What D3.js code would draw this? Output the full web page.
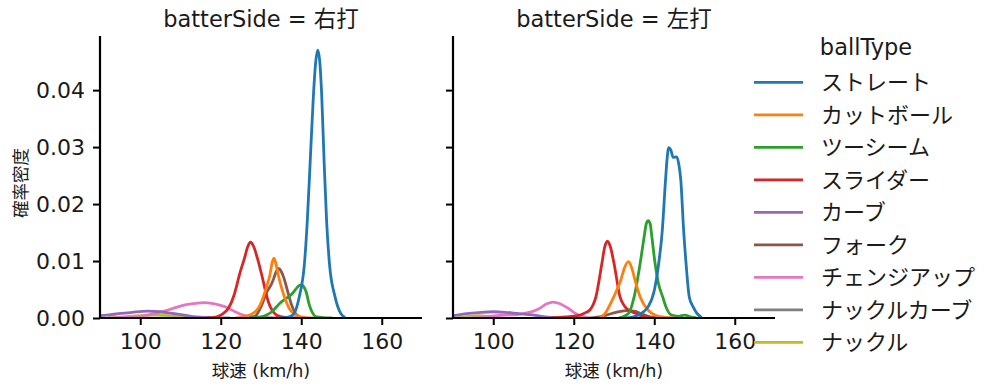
<!DOCTYPE html>
<html>
<head>
<meta charset="utf-8">
<script src="https://cdn.jsdelivr.net/npm/d3@7"></script>
<style>
  body { margin: 0; background: #fff; }
  svg text { font-family: "DejaVu Sans", "Noto Sans CJK JP", sans-serif; fill: #1a1a1a; }
</style>
</head>
<body>
<div id="chart"></div>
<script>
// 球種ごとの球速密度 (画像から読み取った値: [km/h, 密度])
const ballTypes = ['ストレート', 'カットボール', 'ツーシーム', 'スライダー', 'カーブ', 'フォーク', 'チェンジアップ', 'ナックルカーブ', 'ナックル'];
const colors = ['#1f77b4', '#ff7f0e', '#2ca02c', '#d62728', '#9467bd', '#8c564b', '#e377c2', '#7f7f7f', '#bcbd22'];
const panels = ['右打', '左打'];
const xTicks = [100, 120, 140, 160];
const yTicks = [0.00, 0.01, 0.02, 0.03, 0.04];

// 右打
const rightStraight = [[134.7,0],[137,0.0002],[138.2,0.0008],[139.5,0.0037],[140.8,0.0096],[141.5,0.017],[142.2,0.0271],[143,0.0388],[143.6,0.045],[144.1,0.047],[144.6,0.045],[145.1,0.0388],[145.7,0.0271],[146.3,0.017],[147,0.0096],[148.4,0.0037],[149.8,0.0008],[150.9,0.0001]];
const rightCutter = [[123.7,0],[126.4,0.0003],[128,0.0008],[129.3,0.0017],[130.2,0.003],[131,0.0046],[131.6,0.006],[132.2,0.0075],[132.7,0.0095],[133.2,0.0105],[133.7,0.0095],[134.3,0.0075],[135.4,0.0046],[136.2,0.003],[137,0.0017],[138.3,0.0007],[139.7,0.0002],[143.2,0]];
const rightTwoSeam = [[127.3,0],[130.6,0.0003],[132.7,0.0011],[134.7,0.0026],[136,0.0033],[136.8,0.0037],[137.8,0.0043],[138.8,0.0052],[139.5,0.0057],[140,0.0058],[140.6,0.0055],[141.2,0.0046],[142,0.0023],[142.8,0.0009],[143.8,0.0002],[147.7,0]];
const rightSlider = [[116.5,0],[119,0.0002],[120.2,0.0006],[121.9,0.0017],[123.3,0.004],[124,0.0058],[124.6,0.0075],[125.9,0.0105],[126.7,0.0125],[127.4,0.0133],[128.2,0.0125],[129.1,0.0105],[130.2,0.0075],[131.8,0.0029],[133.9,0.0005],[136,0.0001],[139,0]];
const rightCurve = [[84,0],[88,0.0002],[90,0.0004],[94,0.0007],[98,0.001],[101.8,0.0012],[105,0.0011],[108,0.0008],[111,0.0005],[114,0.0002],[117,0.0001],[122.3,0]];
const rightFork = [[126.4,0],[128.5,0.0003],[130.2,0.0023],[131.2,0.0042],[131.8,0.005],[132.5,0.0058],[133.2,0.007],[133.8,0.0082],[134.4,0.0087],[135,0.0082],[135.7,0.007],[136.5,0.005],[137.6,0.0023],[138.9,0.0005],[140.5,0]];
const rightChangeup = [[92,0],[96,0.0001],[100,0.0003],[103.7,0.0008],[106,0.0012],[108.2,0.0017],[111.1,0.0023],[113,0.0025],[116.1,0.0027],[119,0.0024],[121,0.002],[123,0.0013],[125.6,0.0005],[128,0.0002],[131,0.0001],[135.5,0]];
const rightKnuckleCurve = [];
const rightKnuckle = [[92,0],[96,0.0002],[100,0.0004],[104,0.0005],[107,0.0004],[110,0.0002],[113,0]];

// 左打
const leftStraight = [[133,0],[135.6,0.0004],[137.5,0.0012],[138.5,0.002],[139.9,0.0045],[141,0.009],[142,0.0154],[142.8,0.0242],[143.2,0.028],[143.6,0.0299],[144.1,0.0295],[144.7,0.0282],[145.6,0.0283],[146.1,0.027],[146.6,0.0242],[147.3,0.0154],[147.9,0.0096],[148.7,0.0037],[149.7,0.0019],[150.6,0.0008],[151.8,0.0001]];
const leftCutter = [[126.5,0],[127.8,0.0008],[129.2,0.0026],[130.7,0.0049],[131.7,0.0067],[132.6,0.0088],[133.6,0.0099],[134.4,0.0088],[135.2,0.0067],[136.5,0.0037],[138.3,0.0015],[140.6,0.0004],[143,0.0001],[145.2,0]];
const leftTwoSeam = [[131.1,0],[133.6,0.0008],[135,0.0037],[136.5,0.0096],[137.5,0.0143],[138,0.0165],[138.5,0.0171],[139,0.0165],[139.4,0.0143],[140.2,0.0096],[141,0.0062],[142.1,0.0037],[143,0.0018],[144.3,0.0005],[146,0.0003],[147.6,0.0005],[149,0.0002],[150.5,0]];
const leftSlider = [[114.5,0],[118,0.0002],[121,0.0004],[122.5,0.0008],[124,0.0014],[125.5,0.0037],[127,0.0096],[127.7,0.0125],[128.4,0.0135],[129.1,0.0125],[130,0.0096],[131.5,0.0037],[132.7,0.002],[134,0.0012],[135.5,0.0008],[137,0.0003],[139,0]];
const leftCurve = [[84,0],[88,0.0002],[90,0.0004],[94,0.0008],[97,0.001],[100,0.0011],[103,0.001],[106,0.0008],[109,0.0006],[112,0.0003],[115,0.0001],[118,0]];
const leftFork = [[124,0],[127,0.0003],[130,0.0009],[133,0.0013],[135,0.0012],[137,0.0007],[139,0.0002],[141,0]];
const leftChangeup = [[95,0],[99,0.0003],[103,0.0005],[106,0.0006],[108.3,0.0009],[110,0.0012],[111.6,0.0017],[113.3,0.0025],[114.9,0.0028],[116.6,0.0025],[118.6,0.0017],[120.7,0.0007],[122.5,0.0002],[124,0]];
const leftKnuckleCurve = [];
const leftKnuckle = [[91,0],[94,0.0003],[96.5,0.0004],[99,0.0002],[101,0]];

const panelSeries = [
  [rightStraight, rightCutter, rightTwoSeam, rightSlider, rightCurve, rightFork, rightChangeup, rightKnuckleCurve, rightKnuckle],
  [leftStraight, leftCutter, leftTwoSeam, leftSlider, leftCurve, leftFork, leftChangeup, leftKnuckleCurve, leftKnuckle]
];

const width = 999, height = 391;
const svg = d3.select('#chart').append('svg')
  .attr('width', width)
  .attr('height', height);

const panelLeft = [100, 453];
const panelWidth = 322;
const plotTop = 36, plotBottom = 318;

const y = d3.scaleLinear().domain([0, 0.0495]).range([plotBottom, plotTop]);

panels.forEach((side, p) => {
  const x = d3.scaleLinear().domain([90, 170]).range([panelLeft[p], panelLeft[p] + panelWidth]);
  const g = svg.append('g');

  g.append('clipPath').attr('id', 'clip' + p)
    .append('rect')
    .attr('x', panelLeft[p]).attr('y', plotTop - 5)
    .attr('width', panelWidth).attr('height', plotBottom - plotTop + 5);

  const line = d3.line()
    .x(d => x(d[0]))
    .y(d => y(d[1]))
    .curve(d3.curveMonotoneX);

  // 逆順に描く (ストレートが最前面)
  const order = d3.range(ballTypes.length).reverse();
  g.append('g').attr('clip-path', `url(#clip${p})`)
    .selectAll('path')
    .data(order.filter(i => panelSeries[p][i].length))
    .join('path')
    .attr('d', i => line(panelSeries[p][i]))
    .attr('fill', 'none')
    .attr('stroke', i => colors[i])
    .attr('stroke-width', 2.8)
    .attr('stroke-linejoin', 'round');

  // x軸
  const xAxis = g.append('g')
    .attr('transform', `translate(0,${plotBottom})`)
    .call(d3.axisBottom(x).tickValues(xTicks).tickSize(7).tickPadding(6).tickFormat(d3.format('d')));
  xAxis.select('.domain').attr('stroke', '#000').attr('stroke-width', 2.2)
    .attr('d', `M${panelLeft[p]},0H${panelLeft[p] + panelWidth}`);
  xAxis.selectAll('.tick line').attr('stroke', '#000').attr('stroke-width', 2);
  xAxis.selectAll('.tick text').attr('font-size', 22).attr('dy', '0.82em');

  // y軸
  const yAxis = g.append('g')
    .attr('transform', `translate(${panelLeft[p]},0)`)
    .call(d3.axisLeft(y).tickValues(yTicks).tickSize(7).tickPadding(8)
      .tickFormat(p === 0 ? d3.format('.2f') : () => ''));
  yAxis.select('.domain').attr('stroke', '#000').attr('stroke-width', 2.2)
    .attr('d', `M0,${plotTop}V${plotBottom}`);
  yAxis.selectAll('.tick line').attr('stroke', '#000').attr('stroke-width', 2);
  yAxis.selectAll('.tick text').attr('font-size', 22);

  svg.append('text')
    .attr('x', panelLeft[p] + panelWidth / 2)
    .attr('y', 27)
    .attr('text-anchor', 'middle')
    .attr('font-size', 22.5)
    .text(`batterSide = ${side}`);

  svg.append('text')
    .attr('x', panelLeft[p] + panelWidth / 2)
    .attr('y', 377)
    .attr('text-anchor', 'middle')
    .attr('font-size', 17.5)
    .text('球速 (km/h)');
});

svg.append('text')
  .attr('transform', 'translate(27,183) rotate(-90)')
  .attr('text-anchor', 'middle')
  .attr('font-size', 17.5)
  .text('確率密度');

// 凡例
const legend = svg.append('g');
legend.append('text')
  .attr('x', 866).attr('y', 55)
  .attr('text-anchor', 'middle')
  .attr('font-size', 22.5)
  .text('ballType');

const rows = legend.selectAll('g.row')
  .data(ballTypes)
  .join('g')
  .attr('class', 'row')
  .attr('transform', (d, i) => `translate(0,${82.3 + i * 32.5})`);
rows.append('line')
  .attr('x1', 754).attr('x2', 803)
  .attr('stroke', (d, i) => colors[i])
  .attr('stroke-width', 2.8);
rows.append('text')
  .attr('x', 821).attr('y', 0)
  .attr('dy', '0.35em')
  .attr('font-size', 22)
  .text(d => d);
</script>
</body>
</html>
